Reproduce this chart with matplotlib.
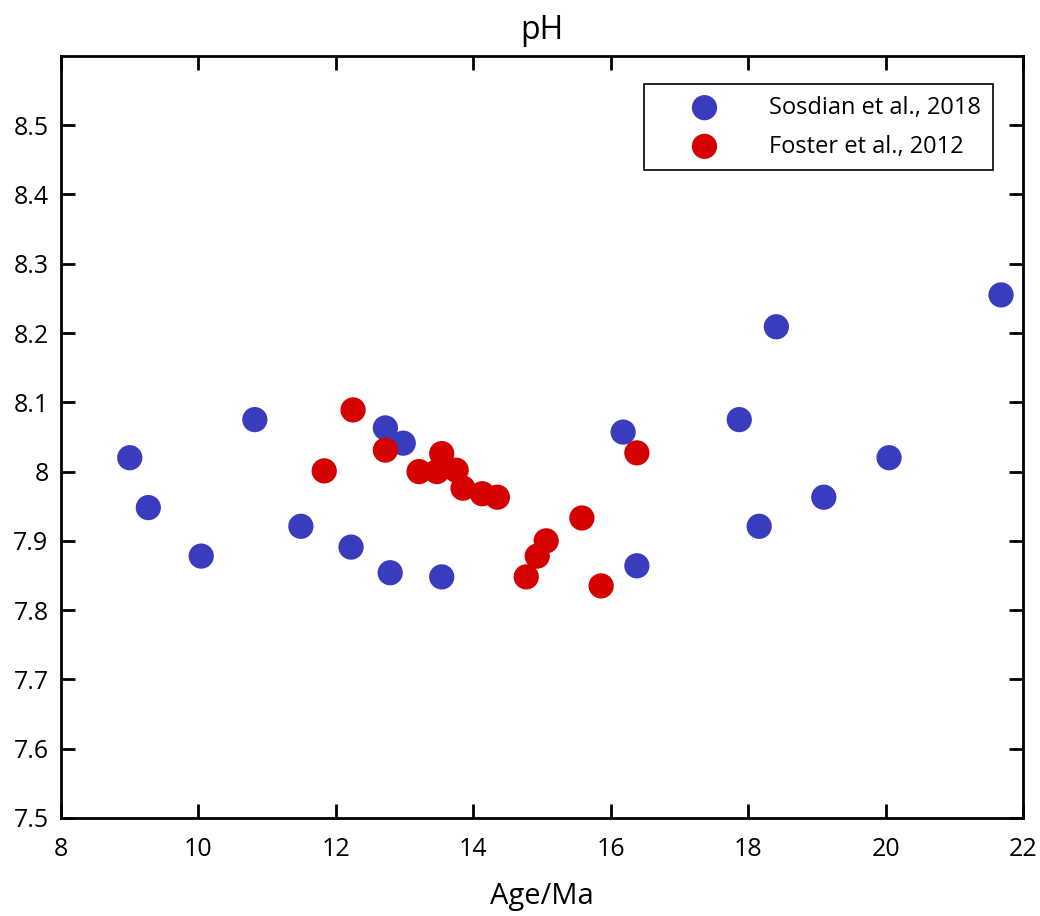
import matplotlib
matplotlib.use('Agg')
import matplotlib.pyplot as plt

plt.rcParams['font.family'] = ['Open Sans', 'DejaVu Sans']

# Sosdian et al., 2018
sosdian_age = [9.00, 9.27, 10.04, 10.82, 11.49, 12.22, 12.72, 12.98, 12.79, 13.54,
               16.18, 16.38, 17.87, 18.41, 18.16, 19.10, 20.05, 21.68]
sosdian_ph = [8.020, 7.948, 7.878, 8.075, 7.921, 7.891, 8.063, 8.041, 7.854, 7.848,
              8.057, 7.864, 8.075, 8.209, 7.921, 7.963, 8.020, 8.255]

# Foster et al., 2012
foster_age = [11.83, 12.25, 12.72, 13.21, 13.47, 13.54, 13.75, 13.85, 14.13, 14.35,
              14.77, 14.93, 15.06, 15.58, 15.86, 16.38]
foster_ph = [8.001, 8.089, 8.031, 8.000, 8.000, 8.026, 8.002, 7.976, 7.968, 7.963,
             7.848, 7.878, 7.900, 7.933, 7.835, 8.027]

blue = '#3A3CBE'
red = '#D50000'

fig = plt.figure(figsize=(10.4, 9.16), dpi=100)
ax = fig.add_axes([0.0587, 0.107, 0.925, 0.832])

ax.scatter(sosdian_age, sosdian_ph, s=330, color=blue, edgecolors='none',
           label='Sosdian et al., 2018', zorder=3)
ax.scatter(foster_age, foster_ph, s=330, color=red, edgecolors='none',
           label='Foster et al., 2012', zorder=3)

ax.set_xlim(8, 22)
ax.set_ylim(7.5, 8.6)
ax.set_xticks(range(8, 23, 2))
ax.set_yticks([7.5, 7.6, 7.7, 7.8, 7.9, 8.0, 8.1, 8.2, 8.3, 8.4, 8.5])
ax.set_yticklabels(['7.5', '7.6', '7.7', '7.8', '7.9', '8', '8.1', '8.2', '8.3', '8.4', '8.5'])

ax.tick_params(direction='in', length=10, width=2, labelsize=18,
               top=True, right=True)
ax.tick_params(axis='y', pad=9)
ax.tick_params(axis='x', pad=14)
for sp in ax.spines.values():
    sp.set_linewidth(2)

ax.set_title('pH', fontsize=23, pad=12)
ax.set_xlabel('Age/Ma', fontsize=21, labelpad=14)

leg = ax.legend(loc='upper right', bbox_to_anchor=(0.969, 0.963), fontsize=17,
                fancybox=False, edgecolor='black', framealpha=1,
                handletextpad=0.7, borderpad=0.5, labelspacing=0.62,
                borderaxespad=0, handlelength=4.1, markerscale=1.0,
                scatterpoints=1)
leg.get_frame().set_linewidth(1.2)

fig.savefig('out.png', dpi=100)
